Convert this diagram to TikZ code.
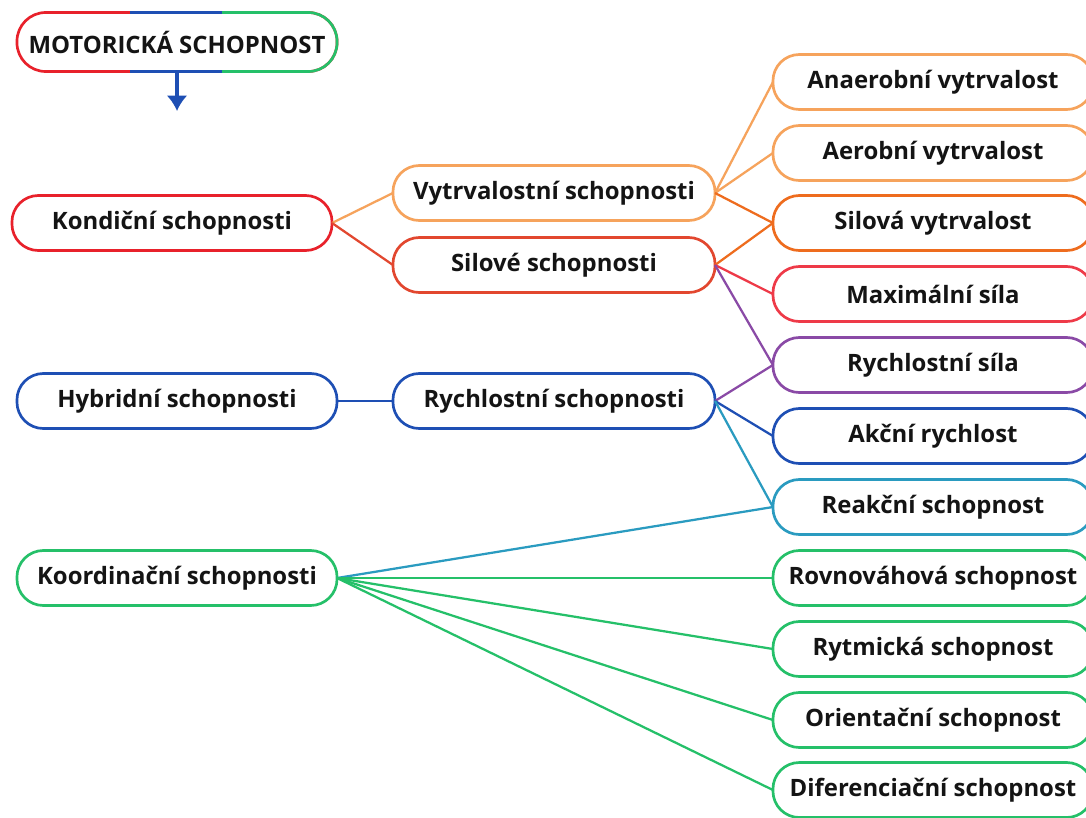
\documentclass[tikz,border=0pt]{standalone}
\usepackage{fontspec}
\setmainfont{Open Sans}
\usetikzlibrary{arrows.meta,calc}

\definecolor{cred}{HTML}{E8212B}
\definecolor{csred}{HTML}{E2472F}
\definecolor{cmred}{HTML}{EE3A48}
\definecolor{corange}{HTML}{F6A35C}
\definecolor{cdorange}{HTML}{EE6C1E}
\definecolor{cpurple}{HTML}{8A4AA6}
\definecolor{cblue}{HTML}{1E4FB4}
\definecolor{cteal}{HTML}{2A9BC0}
\definecolor{cgreen}{HTML}{25C069}

\begin{document}
\begin{tikzpicture}[x=0.025cm, y=-0.025cm, >=Latex]

% styles
\tikzset{
  box/.style={draw, line width=1.9pt, rounded corners=0.66cm, outer sep=0pt,
    minimum width=8cm, minimum height=1.375cm, inner sep=0pt, fill=white,
    text=black!92, font=\fontsize{17}{20}\selectfont\bfseries},
  link/.style={line width=1.6pt},
}

% canvas
\fill[white] (0,0) rectangle (1086,817);
\clip (0,0) rectangle (1086,817);

% title with three-coloured border
\node[box, draw=cred, minimum height=1.475cm, rounded corners=0.72cm] (mot) at (177,42) {MOTORICKÁ SCHOPNOST};
\draw[line width=1.9pt, cgreen, rounded corners=0.72cm]
  ($(mot.north)+(45,0)$) -- (mot.north east) -- (mot.south east) -- ($(mot.south)+(45,0)$);
\draw[line width=1.9pt, cblue] ($(mot.north)+(-47,0)$) -- ($(mot.north)+(45,0)$);
\draw[line width=1.9pt, cblue] ($(mot.south)+(-47,0)$) -- ($(mot.south)+(45,0)$);
\coordinate (down) at (177,111);
\draw[-{Latex[length=11pt,width=15pt]}, line width=3pt, cblue] (mot.south) -- (down);

% left column
\node[box, draw=cred] (kond) at (172,223) {Kondiční schopnosti};
\node[box, draw=cblue] (hybr) at (177,401) {Hybridní schopnosti};
\node[box, draw=cgreen] (koor) at (177,578) {Koordinační schopnosti};

% middle column
\node[box, draw=corange, minimum width=8.05cm] (vytr) at (554,193) {Vytrvalostní schopnosti};
\node[box, draw=csred, minimum width=8.05cm] (silo) at (554,265) {Silové schopnosti};
\node[box, draw=cblue, minimum width=8.05cm] (rych) at (554,401) {Rychlostní schopnosti};

% right column
\node[box, draw=corange] (anae) at (933,82) {Anaerobní vytrvalost};
\node[box, draw=corange] (aero) at (933,153) {Aerobní vytrvalost};
\node[box, draw=cdorange] (silv) at (933,223) {Silová vytrvalost};
\node[box, draw=cmred] (maxs) at (933,294) {Maximální síla};
\node[box, draw=cpurple] (rsil) at (933,365) {Rychlostní síla};
\node[box, draw=cblue] (akce) at (933,436) {Akční rychlost};
\node[box, draw=cteal] (reak) at (933,507) {Reakční schopnost};
\node[box, draw=cgreen] (rovn) at (933,578) {Rovnováhová schopnost};
\node[box, draw=cgreen] (rytm) at (933,649) {Rytmická schopnost};
\node[box, draw=cgreen] (orie) at (933,720) {Orientační schopnost};
\node[box, draw=cgreen] (dife) at (933,790) {Diferenciační schopnost};

% links from the left column
\draw[link, corange] (kond.east) -- (vytr.west);
\draw[link, csred] (kond.east) -- (silo.west);
\draw[link, cblue] (hybr.east) -- (rych.west);
\draw[link, cteal] (koor.east) -- (reak.west);
\draw[link, cgreen] (koor.east) -- (rovn.west);
\draw[link, cgreen] (koor.east) -- (rytm.west);
\draw[link, cgreen] (koor.east) -- (orie.west);
\draw[link, cgreen] (koor.east) -- (dife.west);

% links from the middle column
\draw[link, corange] (vytr.east) -- (anae.west);
\draw[link, corange] (vytr.east) -- (aero.west);
\draw[link, cdorange] (vytr.east) -- (silv.west);
\draw[link, cdorange] (silo.east) -- (silv.west);
\draw[link, cmred] (silo.east) -- (maxs.west);
\draw[link, cpurple] (silo.east) -- (rsil.west);
\draw[link, cpurple] (rych.east) -- (rsil.west);
\draw[link, cblue] (rych.east) -- (akce.west);
\draw[link, cteal] (rych.east) -- (reak.west);

\end{tikzpicture}
\end{document}
